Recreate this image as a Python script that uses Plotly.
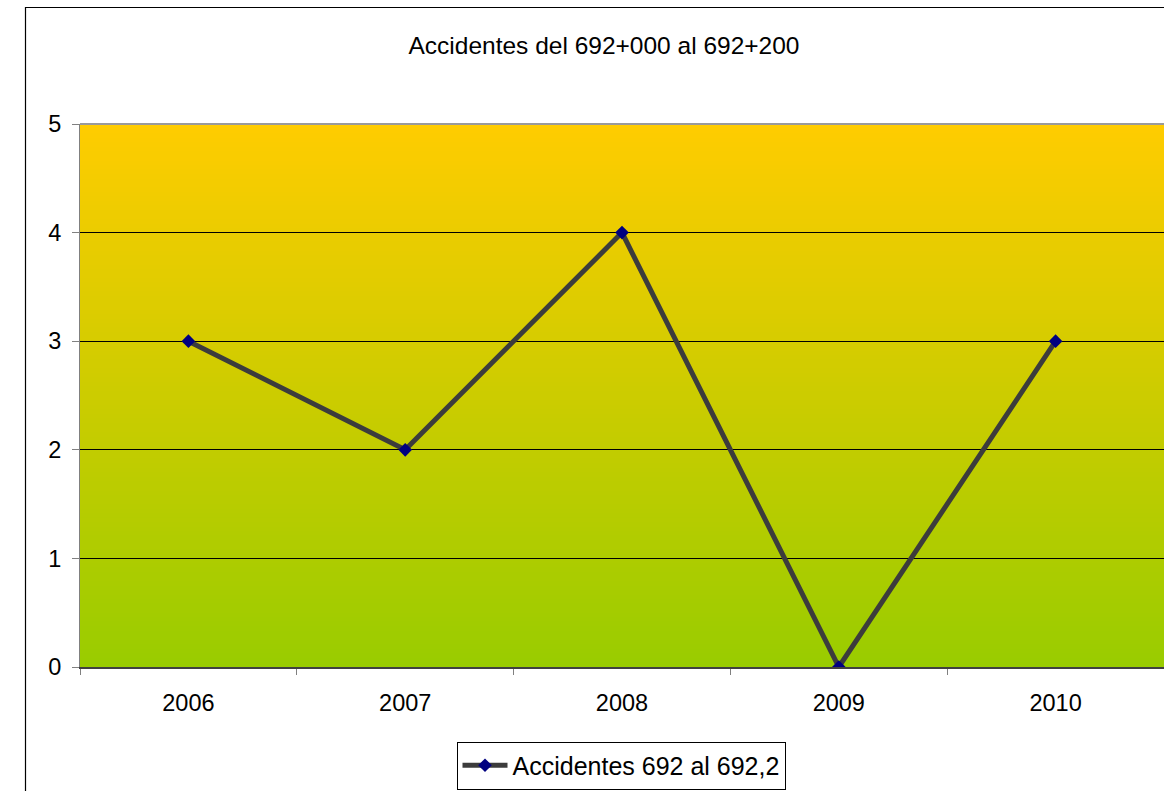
import plotly.graph_objects as go

years = ["2006", "2007", "2008", "2009", "2010"]
accidentes = [3, 2, 4, 0, 3]
y_ticks = [0, 1, 2, 3, 4, 5]
title_text = "Accidentes del 692+000 al 692+200"
series_name = "Accidentes 692 al 692,2"

W, H = 1164, 791
L, R, T, B = 80, 0, 124, 124
pw, ph = W - L - R, H - T - B

fig = go.Figure()
fig.add_trace(go.Scatter(
    x=years, y=accidentes, mode="lines+markers", name=series_name,
    line=dict(color="#3c3c3c", width=5),
    marker=dict(symbol="diamond", color="#000080", size=10.5, line=dict(width=0)),
))

shapes = []
# vertical gradient background (styling only)
top_c = (255, 204, 0)
bot_c = (153, 204, 0)
n = 120
for i in range(n):
    f = (i + 0.5) / n
    c = tuple(int(round(bot_c[k] + (top_c[k] - bot_c[k]) * f)) for k in range(3))
    shapes.append(dict(type="rect", xref="paper", yref="paper",
                       x0=0, x1=1, y0=i / n, y1=(i + 1) / n + 0.002,
                       fillcolor="rgb(%d,%d,%d)" % c, line=dict(width=0), layer="below"))
# plot top border
shapes.append(dict(type="line", xref="paper", yref="paper", x0=0, x1=1, y0=1, y1=1,
                   line=dict(color="#9a9a9a", width=2), layer="above"))
# outer chart border
shapes.append(dict(type="rect", xref="paper", yref="paper",
                   x0=(25.5 - L) / pw, x1=1.2, y0=-0.5, y1=(H - B - 7.5) / ph,
                   line=dict(color="black", width=1.2), fillcolor="rgba(0,0,0,0)", layer="above"))

font_fam = "Arial, Liberation Sans, sans-serif"
fig.update_layout(
    width=W, height=H,
    margin=dict(l=L, r=R, t=T, b=B, autoexpand=False),
    paper_bgcolor="white", plot_bgcolor="white",
    font=dict(family=font_fam, color="black", size=23),
    title=dict(text=title_text, x=604 / W, xanchor="center",
               y=1 - 45 / H, yanchor="middle", font=dict(size=24.5, family=font_fam)),
    shapes=shapes,
    showlegend=True,
    legend=dict(orientation="h", x=(621 - L) / pw, xanchor="center", y=(H - B - 789.5) / ph,
                yanchor="bottom", bordercolor="black", borderwidth=1, bgcolor="white",
                font=dict(size=25, family=font_fam), itemwidth=45),
    xaxis=dict(type="category", range=[-0.5, 4.5], showgrid=False, tickson="boundaries",
               ticks="outside", ticklen=6, tickcolor="#808080", tickwidth=1,
               showline=True, linecolor="#404040", linewidth=2,
               tickfont=dict(size=23.5), ticklabelstandoff=14, zeroline=False, fixedrange=True),
    yaxis=dict(range=[0, 5], tickvals=y_ticks, showgrid=True, gridcolor="black", gridwidth=1,
               ticks="outside", ticklen=7, tickcolor="#808080",
               showline=True, linecolor="#808080", linewidth=1, ticklabelstandoff=6,
               zeroline=False, tickfont=dict(size=23.5)),
)

fig.write_html("out.html")
